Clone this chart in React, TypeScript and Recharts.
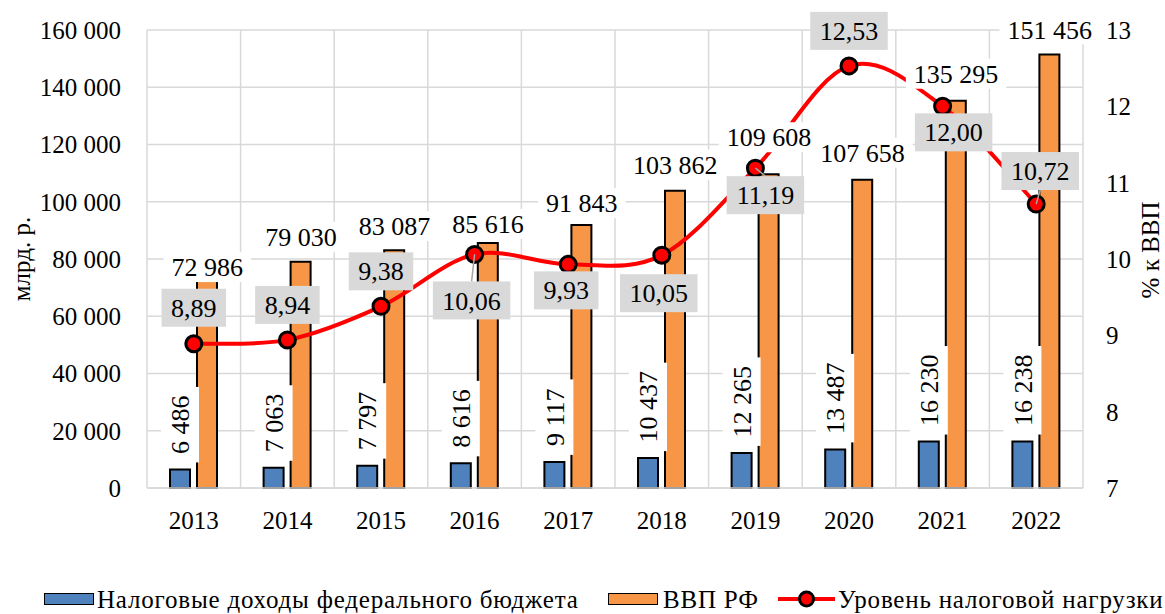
import React from 'react';
import { ComposedChart, Bar, Line, XAxis, YAxis, CartesianGrid, Legend, LabelList } from 'recharts';

const years = ['2013', '2014', '2015', '2016', '2017', '2018', '2019', '2020', '2021', '2022'];
const taxRevenue = [6486, 7063, 7797, 8616, 9117, 10437, 12265, 13487, 16230, 16238];
const gdpValues = [72986, 79030, 83087, 85616, 91843, 103862, 109608, 107658, 135295, 151456];
const taxBurden = [8.89, 8.94, 9.38, 10.06, 9.93, 10.05, 11.19, 12.53, 12.0, 10.72];
const leftTicks = [0, 20000, 40000, 60000, 80000, 100000, 120000, 140000, 160000];
const rightTicks = [7, 8, 9, 10, 11, 12, 13];

// label placement offsets (px)
const burdenLabelDx = [0, 0, 0, -3, -2, -3, 10, 0, 11, 4];
const burdenLabelDy = [-36, -35, -35, 46, 26, 38, 27, -35, 26, -33];
const burdenLeader = [false, false, false, true, false, false, true, false, false, true];
const gdpLabelRise = [12, 25, 24, 19, 22, 26, 37, 27, 27, 25];

const data = years.map((year, i) => ({
  year,
  tax: taxRevenue[i],
  gdp: gdpValues[i],
  burden: taxBurden[i],
}));

const FONT = "Liberation Serif, Tinos, DejaVu Serif, Times New Roman, serif";
const BLUE = '#4F81BD';
const ORANGE = '#F79646';
const RED = '#FF0000';
const GRID = '#D9D9D9';
const LABEL_FS = 26;
const TICK_FS = 25;
const BAR_SIZE = 20;
const BAR_GAP = 7;

const fmtInt = (v: number) => String(Math.round(v)).replace(/\B(?=(\d{3})+(?!\d))/g, ' ');
const fmtDec = (v: number) => v.toFixed(2).replace('.', ',');
const textWidth = (s: string, fs: number) =>
  s.split('').reduce((a, ch) => a + (/\d/.test(ch) ? 0.5 : 0.25), 0) * fs;

function excelCurve(context: any) {
  let pts: number[][] = [];
  return {
    areaStart() {},
    areaEnd() {},
    lineStart() {
      pts = [];
    },
    lineEnd() {
      if (!pts.length) return;
      context.moveTo(pts[0][0], pts[0][1]);
      for (let i = 0; i < pts.length - 1; i++) {
        const p0 = pts[i - 1] || pts[i];
        const p1 = pts[i];
        const p2 = pts[i + 1];
        const p3 = pts[i + 2] || pts[i + 1];
        const c1x = p1[0] + (p2[0] - p0[0]) / 6;
        const c1y = p1[1] + (p2[1] - p0[1]) / 6;
        const c2x = p2[0] - (p3[0] - p1[0]) / 6;
        const c2y = p2[1] - (p3[1] - p1[1]) / 6;
        context.bezierCurveTo(c1x, c1y, c2x, c2y, p2[0], p2[1]);
      }
    },
    point(x: number, y: number) {
      pts.push([+x, +y]);
    },
  };
}

const getBox = (props: any) => {
  const vb = props.viewBox || {};
  const x = vb.x ?? props.x;
  const y = vb.y ?? props.y;
  const width = vb.width ?? props.width ?? 0;
  const height = vb.height ?? props.height ?? 0;
  return { x, y, width, height };
};

const TaxLabel = (props: any) => {
  const { x, y, width, height } = getBox(props);
  const s = fmtInt(Number(props.value));
  const cx = x + width / 2;
  const top = Math.min(y, y + height);
  const len = textWidth(s, LABEL_FS) + 17;
  const cy = top - 7 - len / 2;
  return (
    <g transform={`translate(${cx},${cy}) rotate(-90)`}>
      <rect x={-len / 2} y={-19} width={len} height={38} fill="#fff" />
      <text x={0} y={0} dy="0.35em" textAnchor="middle" fontSize={LABEL_FS} fontFamily={FONT} fill="#000">
        {s}
      </text>
    </g>
  );
};

const GdpLabel = (props: any) => {
  const { x, y, width } = getBox(props);
  const idx = props.index ?? 0;
  const s = fmtInt(Number(props.value));
  const cx = x + width / 2 + (BAR_SIZE + BAR_GAP) / 2;
  const cy = y - gdpLabelRise[idx];
  const w = textWidth(s, LABEL_FS) + 16;
  return (
    <g>
      <rect x={cx - w / 2} y={cy - 15} width={w} height={30} fill="#fff" />
      <text x={cx} y={cy} dy="0.35em" textAnchor="middle" fontSize={LABEL_FS} fontFamily={FONT} fill="#000">
        {s}
      </text>
    </g>
  );
};

const BurdenLabel = (props: any) => {
  const { x, y, width } = getBox(props);
  const idx = props.index ?? 0;
  const px = x + width / 2;
  const s = fmtDec(Number(props.value));
  const cx = px + burdenLabelDx[idx];
  const cy = y + burdenLabelDy[idx];
  const w = textWidth(s, LABEL_FS) + 19;
  const h = 38;
  const edgeY = burdenLabelDy[idx] > 0 ? cy - h / 2 : cy + h / 2;
  return (
    <g>
      {burdenLeader[idx] && <line x1={px} y1={y} x2={cx} y2={edgeY} stroke="#A6A6A6" strokeWidth={1.5} />}
      <rect x={cx - w / 2} y={cy - h / 2} width={w} height={h} fill="#D9D9D9" />
      <text x={cx} y={cy} dy="0.35em" textAnchor="middle" fontSize={LABEL_FS} fontFamily={FONT} fill="#000">
        {s}
      </text>
    </g>
  );
};

const LeftTitle = (props: any) => {
  const vb = props.viewBox || { x: 0, y: 30, width: 147, height: 458 };
  const cx = vb.x + 21;
  const cy = vb.y + vb.height / 2;
  return (
    <text x={cx} y={cy} transform={`rotate(-90 ${cx} ${cy})`} dy="0.35em" textAnchor="middle" fontSize={TICK_FS} fontFamily={FONT} fill="#000">
      млрд. р.
    </text>
  );
};

const RightTitle = (props: any) => {
  const vb = props.viewBox || { x: 1083, y: 30, width: 82, height: 458 };
  const cx = vb.x + 67;
  const cy = vb.y + vb.height / 2 - 9;
  return (
    <text x={cx} y={cy} transform={`rotate(-90 ${cx} ${cy})`} dy="0.35em" textAnchor="middle" fontSize={TICK_FS} fontFamily={FONT} fill="#000">
      % к ВВП
    </text>
  );
};

const LegendContent = () => (
  <div style={{ position: 'relative', height: 40, width: 1165, fontFamily: FONT, fontSize: 25, color: '#000', lineHeight: '30px', letterSpacing: '0.8px' }}>
    <div style={{ position: 'absolute', left: 44, top: 19, width: 50, height: 12, background: BLUE, border: '1.5px solid #000', boxSizing: 'border-box' }} />
    <span style={{ position: 'absolute', left: 97, top: 11, whiteSpace: 'nowrap' }}>Налоговые доходы федерального бюджета</span>
    <div style={{ position: 'absolute', left: 608, top: 19, width: 50, height: 12, background: ORANGE, border: '1.5px solid #000', boxSizing: 'border-box' }} />
    <span style={{ position: 'absolute', left: 663, top: 11, whiteSpace: 'nowrap' }}>ВВП РФ</span>
    <svg style={{ position: 'absolute', left: 778, top: 14 }} width={57} height={22}>
      <line x1={0} y1={11} x2={57} y2={11} stroke={RED} strokeWidth={4} />
      <circle cx={28.5} cy={11} r={7} fill={RED} stroke="#000" strokeWidth={3} />
    </svg>
    <span style={{ position: 'absolute', left: 838, top: 11, whiteSpace: 'nowrap' }}>Уровень налоговой нагрузки</span>
  </div>
);

export default function App() {
  return (
    <div style={{ position: 'absolute', left: 0, top: 0, width: 1165, height: 614, background: '#fff', fontFamily: FONT }}>
      <ComposedChart
        width={1165}
        height={614}
        data={data}
        margin={{ top: 30, right: 0, bottom: 0, left: 0 }}
        barSize={BAR_SIZE}
        barGap={BAR_GAP}
        style={{ fontFamily: FONT }}
      >
        <CartesianGrid
          yAxisId="left"
          stroke={GRID}
          strokeWidth={1.5}
          verticalCoordinatesGenerator={({ offset }: any) =>
            years.map((_, i) => offset.left + (i * offset.width) / years.length).concat([offset.left + offset.width])
          }
        />
        <XAxis
          dataKey="year"
          height={86}
          tickLine={false}
          tickSize={0}
          tickMargin={23}
          axisLine={{ stroke: GRID, strokeWidth: 1.5 }}
          tick={{ fontSize: TICK_FS, fill: '#000', fontFamily: FONT }}
        />
        <YAxis
          yAxisId="left"
          width={147}
          domain={[0, 160000]}
          ticks={leftTicks}
          tickFormatter={fmtInt}
          axisLine={false}
          tickLine={false}
          tickSize={0}
          tickMargin={26}
          tick={{ fontSize: TICK_FS, fill: '#000', fontFamily: FONT }}
          label={<LeftTitle />}
        />
        <YAxis
          yAxisId="right"
          orientation="right"
          width={82}
          domain={[7, 13]}
          ticks={rightTicks}
          axisLine={false}
          tickLine={false}
          tickSize={0}
          tickMargin={23}
          tick={{ fontSize: TICK_FS, fill: '#000', fontFamily: FONT }}
          label={<RightTitle />}
        />
        <Bar yAxisId="left" dataKey="tax" fill={BLUE} stroke="#000" strokeWidth={2} isAnimationActive={false}>
          <LabelList dataKey="tax" content={<TaxLabel />} />
        </Bar>
        <Bar yAxisId="left" dataKey="gdp" fill={ORANGE} stroke="#000" strokeWidth={2} isAnimationActive={false} />
        <Line
          yAxisId="right"
          dataKey="burden"
          type={excelCurve as any}
          stroke={RED}
          strokeWidth={4}
          dot={{ r: 8, fill: RED, stroke: '#000', strokeWidth: 3 }}
          activeDot={false}
          isAnimationActive={false}
        >
          <LabelList dataKey="burden" content={<BurdenLabel />} />
        </Line>
        <Line
          yAxisId="left"
          dataKey="gdp"
          stroke="none"
          dot={false}
          activeDot={false}
          legendType="none"
          isAnimationActive={false}
        >
          <LabelList dataKey="gdp" content={<GdpLabel />} />
        </Line>
        <Legend verticalAlign="bottom" height={40} wrapperStyle={{ left: 0, width: 1165 }} content={<LegendContent />} />
      </ComposedChart>
    </div>
  );
}
